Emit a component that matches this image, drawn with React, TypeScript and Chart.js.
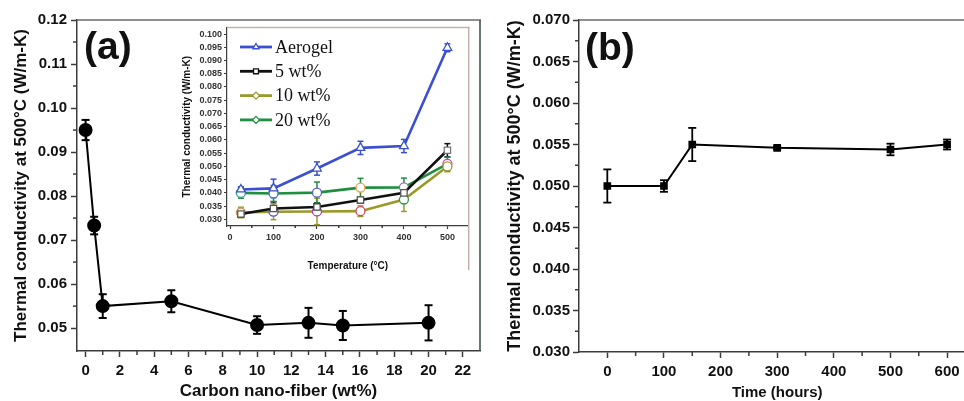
import React, { useEffect, useRef } from "react";
import { Chart, registerables } from "chart.js";

Chart.register(...registerables);

// ---------- Panel (a): conductivity vs carbon nano-fiber content ----------
const cnfContent = [0, 0.5, 1, 5, 10, 13, 15, 20];
const cnfConductivity = [0.095, 0.0733, 0.055, 0.0561, 0.0507, 0.0512, 0.0506, 0.0512];
const cnfError = [0.0023, 0.002, 0.0027, 0.0025, 0.002, 0.0034, 0.0033, 0.004];
const aXTicks = [0, 2, 4, 6, 8, 10, 12, 14, 16, 18, 20, 22];
const aXMinor = [1, 3, 5, 7, 9, 11, 13, 15, 17, 19, 21];
const aYTicks = [0.05, 0.06, 0.07, 0.08, 0.09, 0.1, 0.11, 0.12];
const aYMinor = [0.055, 0.065, 0.075, 0.085, 0.095, 0.105, 0.115];

// ---------- Inset: conductivity vs temperature ----------
const temperatures = [25, 100, 200, 300, 400, 500];
const seriesLabels = ["Aerogel", "5 wt%", "10 wt%", "20 wt%"];
const aerogelK = [0.0413, 0.0417, 0.0492, 0.057, 0.0577, 0.0948];
const aerogelErr = [0.001, 0.0035, 0.0025, 0.0025, 0.0025, 0.0015];
const wt5K = [0.032, 0.0341, 0.0347, 0.0373, 0.04, 0.0561];
const wt5Err = [0.001, 0.0025, 0.0015, 0.001, 0.001, 0.0025];
const wt10K = [0.0326, 0.0329, 0.033, 0.0331, 0.0375, 0.05];
const wt10Err = [0.002, 0.003, 0.005, 0.002, 0.0045, 0.002];
const wt20K = [0.04, 0.0398, 0.0401, 0.042, 0.0421, 0.051];
const wt20Err = [0.002, 0.003, 0.004, 0.0035, 0.0035, 0.0025];
const insetXTicks = [0, 100, 200, 300, 400, 500];
const insetXMinor = [50, 150, 250, 350, 450];
const insetYTicks = [0.03, 0.035, 0.04, 0.045, 0.05, 0.055, 0.06, 0.065, 0.07, 0.075, 0.08, 0.085, 0.09, 0.095, 0.1];

// ---------- Panel (b): conductivity vs ageing time ----------
const hours = [0, 100, 150, 300, 500, 600];
const agedK = [0.05, 0.05, 0.055, 0.0546, 0.0544, 0.055];
const agedErr = [0.002, 0.0007, 0.002, 0.0002, 0.0007, 0.0006];
const bXTicks = [0, 100, 200, 300, 400, 500, 600];
const bXMinor = [50, 150, 250, 350, 450, 550, 650];
const bYTicks = [0.03, 0.035, 0.04, 0.045, 0.05, 0.055, 0.06, 0.065, 0.07];
const bYMinor = [0.0325, 0.0375, 0.0425, 0.0475, 0.0525, 0.0575, 0.0625, 0.0675];

const SANS = "'Liberation Sans', Arial, sans-serif";
const SERIF = "'Liberation Serif', 'Times New Roman', serif";
const AXIS = "#3c3c3c";
const TEXT = "#111";

function pts(xs: number[], ys: number[]) {
  return xs.map((x, i) => ({ x, y: ys[i] }));
}

function line(ctx: CanvasRenderingContext2D, x1: number, y1: number, x2: number, y2: number) {
  ctx.beginPath();
  ctx.moveTo(x1, y1);
  ctx.lineTo(x2, y2);
  ctx.stroke();
}

const errorBarPlugin = {
  id: "errorBars",
  beforeDatasetsDraw(chart: any) {
    const ctx = chart.ctx as CanvasRenderingContext2D;
    const ys = chart.scales.y;
    chart.data.datasets.forEach((ds: any, i: number) => {
      if (!ds.errors) return;
      const meta = chart.getDatasetMeta(i);
      ctx.save();
      ctx.strokeStyle = ds.errorColor || ds.borderColor;
      ctx.lineWidth = ds.errorWidth || 1.5;
      meta.data.forEach((el: any, j: number) => {
        const v = ds.data[j].y;
        const e = ds.errors[j];
        const x = el.x;
        const t = ys.getPixelForValue(v + e);
        const b = ys.getPixelForValue(v - e);
        const c = ds.capHalf || 4;
        line(ctx, x, t, x, b);
        line(ctx, x - c, t, x + c, t);
        line(ctx, x - c, b, x + c, b);
      });
      ctx.restore();
    });
  },
};

function decoPlugin(cfg: {
  id: string;
  xMinor: number[];
  yMinor: number[];
  minorLen: number;
  width: number;
  topColor?: string;
  rightColor?: string;
  rightExtend?: number;
  label?: { text: string; x: number; y: number; font: string };
}) {
  return {
    id: cfg.id,
    afterDraw(chart: any) {
      const ctx = chart.ctx as CanvasRenderingContext2D;
      const a = chart.chartArea;
      const sx = chart.scales.x;
      const sy = chart.scales.y;
      ctx.save();
      ctx.lineWidth = cfg.width;
      if (cfg.topColor) {
        ctx.strokeStyle = cfg.topColor;
        line(ctx, a.left, a.top, a.right + 1, a.top);
      }
      if (cfg.rightColor) {
        ctx.strokeStyle = cfg.rightColor;
        line(ctx, a.right, a.top, a.right, a.bottom + (cfg.rightExtend || 0));
      }
      ctx.strokeStyle = AXIS;
      for (const v of cfg.xMinor) {
        const px = sx.getPixelForValue(v);
        if (px < a.left || px > a.right) continue;
        line(ctx, px, a.bottom, px, a.bottom + cfg.minorLen);
      }
      for (const v of cfg.yMinor) {
        const py = sy.getPixelForValue(v);
        line(ctx, a.left - cfg.minorLen, py, a.left, py);
      }
      if (cfg.label) {
        ctx.fillStyle = TEXT;
        ctx.font = cfg.label.font;
        ctx.textBaseline = "alphabetic";
        ctx.textAlign = "left";
        ctx.fillText(cfg.label.text, cfg.label.x, cfg.label.y);
      }
      ctx.restore();
    },
  };
}

function drawMarker(ctx: CanvasRenderingContext2D, style: string, x: number, y: number, r: number) {
  ctx.beginPath();
  if (style === "triangle") {
    ctx.moveTo(x, y - r);
    ctx.lineTo(x + r * 0.87, y + r * 0.5);
    ctx.lineTo(x - r * 0.87, y + r * 0.5);
    ctx.closePath();
  } else if (style === "rect") {
    ctx.rect(x - r * 0.7, y - r * 0.7, r * 1.4, r * 1.4);
  } else if (style === "diamond") {
    ctx.moveTo(x, y - r);
    ctx.lineTo(x + r, y);
    ctx.lineTo(x, y + r);
    ctx.lineTo(x - r, y);
    ctx.closePath();
  } else {
    ctx.arc(x, y, r, 0, Math.PI * 2);
  }
  ctx.fill();
  ctx.stroke();
}

const insetLegendPlugin = {
  id: "insetLegend",
  afterDraw(chart: any) {
    const ctx = chart.ctx as CanvasRenderingContext2D;
    ctx.save();
    chart.data.datasets.forEach((ds: any, i: number) => {
      const y = 27 + i * 24.3;
      ctx.strokeStyle = ds.borderColor;
      ctx.lineWidth = 2.8;
      line(ctx, 70, y, 102, y);
      ctx.fillStyle = "#fff";
      ctx.lineWidth = 1.3;
      ctx.strokeStyle = ds.legendMarkerColor;
      drawMarker(ctx, ds.legendMarker, 86, y, 3.5);
      ctx.fillStyle = TEXT;
      ctx.font = `18px ${SERIF}`;
      ctx.textBaseline = "middle";
      ctx.textAlign = "left";
      ctx.fillText(ds.label, 105, y + 1);
    });
    ctx.restore();
  },
};

function axisCommon(opts: {
  min: number;
  max: number;
  ticks: number[];
  fmt: (v: number) => string;
  fontSize: number;
  tickLen: number;
  pad: number;
  fit: (s: any) => void;
  title: string;
  titleSize: number;
  titlePad: number;
  width: number;
  labelColor?: string;
}) {
  return {
    type: "linear" as const,
    min: opts.min,
    max: opts.max,
    afterBuildTicks: (s: any) => {
      s.ticks = opts.ticks.map((v) => ({ value: v }));
    },
    afterFit: opts.fit,
    ticks: {
      autoSkip: false,
      maxRotation: 0,
      padding: opts.pad,
      color: opts.labelColor || TEXT,
      font: { family: SANS, size: opts.fontSize, weight: "bold" as const },
      callback: (v: any) => opts.fmt(Number(v)),
    },
    grid: {
      display: true,
      drawOnChartArea: false,
      drawTicks: true,
      tickLength: opts.tickLen,
      tickColor: AXIS,
      tickWidth: opts.width,
    },
    border: { display: true, color: AXIS, width: opts.width },
    title: {
      display: true,
      text: opts.title,
      color: TEXT,
      padding: { top: opts.titlePad, bottom: 0 },
      font: { family: SANS, size: opts.titleSize, weight: "bold" as const, lineHeight: 1.1 },
    },
  };
}

export default function App() {
  const aRef = useRef<HTMLCanvasElement>(null);
  const bRef = useRef<HTMLCanvasElement>(null);
  const insetRef = useRef<HTMLCanvasElement>(null);

  useEffect(() => {
    const base = {
      responsive: false,
      animation: false as const,
      devicePixelRatio: 1,
      events: [] as any[],
    };

    const chartA = new Chart(aRef.current!, {
      type: "line",
      data: {
        datasets: [
          {
            label: "Thermal conductivity",
            data: pts(cnfContent, cnfConductivity),
            borderColor: "#000",
            backgroundColor: "#000",
            borderWidth: 2,
            pointRadius: 6,
            pointStyle: "circle",
            pointBackgroundColor: "#000",
            pointBorderColor: "#000",
            tension: 0,
            errors: cnfError,
            errorWidth: 2,
            capHalf: 4,
          } as any,
        ],
      },
      options: {
        ...base,
        layout: { padding: { left: 0, top: 20, right: 10, bottom: 0 } },
        plugins: { legend: { display: false }, tooltip: { enabled: false } },
        scales: {
          x: axisCommon({
            min: -0.5,
            max: 23,
            ticks: aXTicks,
            fmt: (v) => String(v),
            fontSize: 15,
            tickLen: 6,
            pad: 5,
            fit: (s) => {
              s.height = 50;
            },
            title: "Carbon nano-fiber (wt%)",
            titleSize: 17,
            titlePad: 0,
            width: 1.5,
          }),
          y: axisCommon({
            min: 0.0448,
            max: 0.12,
            ticks: aYTicks,
            fmt: (v) => v.toFixed(2),
            fontSize: 15,
            tickLen: 6,
            pad: 4,
            fit: (s) => {
              s.width = 77;
            },
            title: "Thermal conductivity at 500°C (W/m-K)",
            titleSize: 17,
            titlePad: 12,
            width: 1.5,
          }),
        },
      } as any,
      plugins: [
        errorBarPlugin,
        decoPlugin({
          id: "decoA",
          xMinor: aXMinor,
          yMinor: aYMinor,
          minorLen: 4,
          width: 1.5,
          topColor: "#6a6a6a",
          rightColor: "#3a4a4a",
          label: { text: "(a)", x: 84, y: 59, font: `bold 39px ${SANS}` },
        }),
      ],
    });

    const mk = (label: string, ys: number[], errs: number[], color: string, style: string, pointColors: string[], legendMarker: string, r = 4) =>
      ({
        label,
        data: pts(temperatures, ys),
        borderColor: color,
        backgroundColor: color,
        borderWidth: 2.6,
        pointStyle: style,
        pointRadius: r,
        pointBorderWidth: 1.3,
        pointBackgroundColor: "#fff",
        pointBorderColor: pointColors,
        tension: 0,
        errors: errs,
        errorWidth: 1.5,
        capHalf: 3,
        legendMarker,
        legendMarkerColor: color,
      } as any);

    const chartInset = new Chart(insetRef.current!, {
      type: "line",
      data: {
        datasets: [
          mk(seriesLabels[0], aerogelK, aerogelErr, "#3a4fd2", "triangle",
            ["#3a4fd2", "#3a4fd2", "#3a4fd2", "#3a4fd2", "#3a4fd2", "#3a4fd2"], "triangle", 5),
          mk(seriesLabels[1], wt5K, wt5Err, "#111111", "rect",
            ["#555", "#555", "#444", "#555", "#555", "#777"], "rect", 4.5),
          mk(seriesLabels[2], wt10K, wt10Err, "#9a9a2a", "circle",
            ["#c8955a", "#5a4fc0", "#b040b0", "#d84060", "#2a9a4a", "#9a9a2a"], "diamond", 4.5),
          mk(seriesLabels[3], wt20K, wt20Err, "#1f8f3f", "circle",
            ["#2aa08a", "#3a6fd0", "#5a5fd0", "#f0a040", "#9a6ab0", "#c050b0"], "diamond", 4.5),
        ],
      },
      options: {
        ...base,
        layout: { padding: { left: 0, top: 7, right: 3, bottom: 0 } },
        plugins: { legend: { display: false }, tooltip: { enabled: false } },
        scales: {
          x: axisCommon({
            min: -7,
            max: 549,
            ticks: insetXTicks,
            fmt: (v) => String(v),
            fontSize: 9,
            tickLen: 3,
            pad: 3,
            fit: (s) => {
              s.height = 46;
            },
            title: "Temperature (°C)",
            titleSize: 10,
            titlePad: 8,
            width: 1.2,
            labelColor: "#333",
          }),
          y: axisCommon({
            min: 0.0275,
            max: 0.1025,
            ticks: insetYTicks,
            fmt: (v) => v.toFixed(3),
            fontSize: 9,
            tickLen: 3,
            pad: 2,
            fit: (s) => {
              s.width = 57;
            },
            title: "Thermal conductivity (W/m-K)",
            titleSize: 10,
            titlePad: 12,
            width: 1.2,
            labelColor: "#333",
          }),
        },
      } as any,
      plugins: [
        errorBarPlugin,
        decoPlugin({
          id: "decoInset",
          xMinor: insetXMinor,
          yMinor: [],
          minorLen: 2,
          width: 1.5,
          topColor: "#c4b2aa",
          rightColor: "#c4b2aa",
          rightExtend: 44,
        }),
        insetLegendPlugin,
      ],
    });

    const chartB = new Chart(bRef.current!, {
      type: "line",
      data: {
        datasets: [
          {
            label: "Thermal conductivity",
            data: pts(hours, agedK),
            borderColor: "#000",
            backgroundColor: "#000",
            borderWidth: 2,
            pointRadius: 4,
            pointStyle: "rect",
            pointBackgroundColor: "#000",
            pointBorderColor: "#000",
            tension: 0,
            errors: agedErr,
            errorWidth: 1.8,
            capHalf: 4,
          } as any,
        ],
      },
      options: {
        ...base,
        layout: { padding: { left: 0, top: 20, right: 14.6, bottom: 0 } },
        plugins: { legend: { display: false }, tooltip: { enabled: false } },
        scales: {
          x: axisCommon({
            min: -50,
            max: 650,
            ticks: bXTicks,
            fmt: (v) => String(v),
            fontSize: 15,
            tickLen: 6,
            pad: 5,
            fit: (s) => {
              s.height = 49;
            },
            title: "Time (hours)",
            titleSize: 15,
            titlePad: 0,
            width: 1.5,
          }),
          y: axisCommon({
            min: 0.03,
            max: 0.07,
            ticks: bYTicks,
            fmt: (v) => v.toFixed(3),
            fontSize: 15,
            tickLen: 6,
            pad: 3,
            fit: (s) => {
              s.width = 89;
            },
            title: "Thermal conductivity at 500°C (W/m-K)",
            titleSize: 18,
            titlePad: 15,
            width: 1.5,
          }),
        },
      } as any,
      plugins: [
        errorBarPlugin,
        decoPlugin({
          id: "decoB",
          xMinor: bXMinor,
          yMinor: bYMinor,
          minorLen: 4,
          width: 1.5,
          topColor: "#6a6a6a",
          label: { text: "(b)", x: 95, y: 60, font: `bold 39px ${SANS}` },
        }),
      ],
    });

    return () => {
      chartA.destroy();
      chartInset.destroy();
      chartB.destroy();
    };
  }, []);

  return (
    <div
      style={{
        position: "fixed",
        left: 0,
        top: 0,
        width: 964,
        height: 401,
        overflow: "hidden",
        background: "#fff",
      }}
    >
      <canvas ref={aRef} width={490} height={401} style={{ position: "absolute", left: 0, top: 0 }} />
      <canvas ref={insetRef} width={305} height={252} style={{ position: "absolute", left: 170, top: 20 }} />
      <canvas ref={bRef} width={500} height={401} style={{ position: "absolute", left: 490, top: 0 }} />
    </div>
  );
}
